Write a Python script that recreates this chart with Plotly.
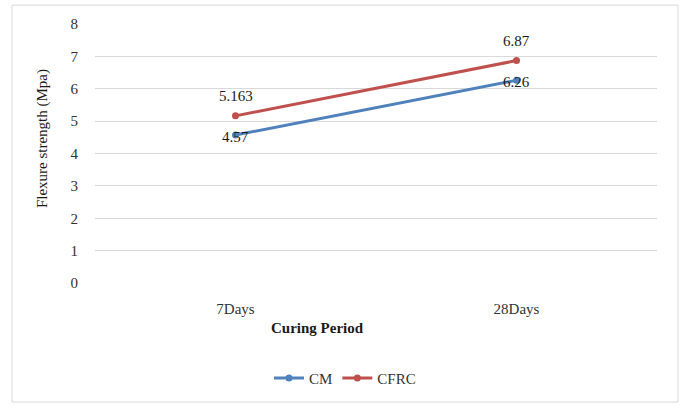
import plotly.graph_objects as go

# Flexural strength by curing period
periods = ["7Days", "28Days"]
cm_strength = [4.57, 6.26]
cfrc_strength = [5.163, 6.87]
cm_labels = ["4.57", "6.26"]
cfrc_labels = ["5.163", "6.87"]
y_ticks = [0, 1, 2, 3, 4, 5, 6, 7, 8]

FONT = "Liberation Serif"
BLUE = "#4F81BD"
RED = "#C0504D"
LABEL_FONT = dict(family=FONT, size=15, color="#1a1a1a")

fig = go.Figure()

fig.add_trace(go.Scatter(
    x=periods, y=cm_strength, name="CM",
    mode="lines+markers",
    line=dict(color=BLUE, width=3),
    marker=dict(color=BLUE, size=7),
))

fig.add_trace(go.Scatter(
    x=periods, y=cfrc_strength, name="CFRC",
    mode="lines+markers",
    line=dict(color=RED, width=3),
    marker=dict(color=RED, size=7),
))

L, R, T, B = 95, 26, 24, 122
W, H = 683, 407
pw, ph = W - L - R, H - T - B

def px_x(x):
    return (x - L) / pw

def px_y(y):
    return (H - B - y) / ph

# value labels: CM centred on its points, CFRC above its points
value_labels = []
for cat, val, lab in zip(periods, cm_strength, cm_labels):
    value_labels.append(dict(x=cat, y=val, text=lab, xref="x", yref="y",
                             showarrow=False, yshift=-2, font=LABEL_FONT))
for cat, val, lab in zip(periods, cfrc_strength, cfrc_labels):
    value_labels.append(dict(x=cat, y=val, text=lab, xref="x", yref="y",
                             showarrow=False, yshift=20, font=LABEL_FONT))

fig.update_layout(
    width=W, height=H,
    margin=dict(l=L, r=R, t=T, b=B),
    paper_bgcolor="white", plot_bgcolor="white",
    font=dict(family=FONT, size=14, color="#333333"),
    showlegend=True,
    legend=dict(
        orientation="h", x=px_x(345), y=px_y(381),
        xanchor="center", yanchor="middle",
        font=dict(family=FONT, size=15, color="#333333"),
    ),
    xaxis=dict(
        type="category", range=[-0.5, 1.5], showgrid=False, zeroline=False,
        showline=False, ticks="",
        tickfont=dict(family=FONT, size=15, color="#333333"),
        ticklabelstandoff=15,
    ),
    yaxis=dict(
        range=[0, 8], tickvals=y_ticks,
        showgrid=True, gridcolor="#D9D9D9", gridwidth=1,
        zeroline=False, showline=False, ticks="",
        tickfont=dict(family=FONT, size=15, color="#333333"),
        ticklabelstandoff=16,
    ),
    shapes=[dict(
        type="rect", xref="paper", yref="paper",
        x0=px_x(12), x1=px_x(678), y0=px_y(405), y1=px_y(5),
        line=dict(color="#D9D9D9", width=1), fillcolor="rgba(0,0,0,0)",
        layer="below",
    )],
    annotations=value_labels + [
        dict(text="<b>Curing Period</b>", xref="paper", yref="paper",
             x=px_x(317), y=px_y(330), xanchor="center", yanchor="middle",
             showarrow=False,
             font=dict(family=FONT, size=15, color="#1a1a1a")),
        dict(text="Flexure strength (Mpa)", xref="paper", yref="paper",
             x=px_x(42), y=px_y(140), xanchor="center", yanchor="middle",
             showarrow=False, textangle=-90,
             font=dict(family=FONT, size=15, color="#1a1a1a")),
    ],
)

fig.write_html("out.html")
